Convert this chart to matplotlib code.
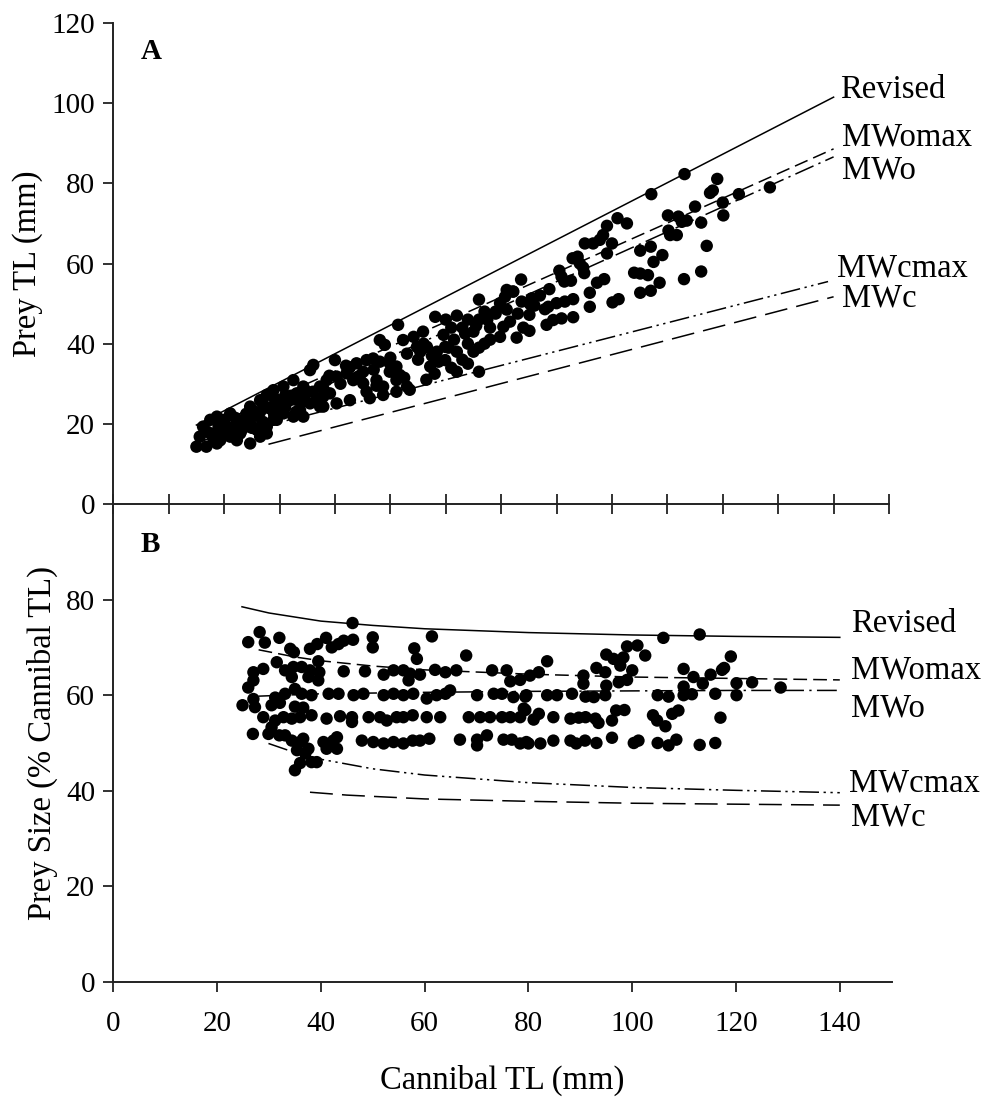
import matplotlib
matplotlib.use("Agg")
import matplotlib.pyplot as plt

plt.rcParams['font.family'] = ['Liberation Serif', 'DejaVu Serif']

# ---------------- Panel A data (Cannibal TL vs Prey TL, mm) ----------------
A_x = [103.1, 97.1, 109.0, 118.5, 112.9, 107.7, 108.2, 110.0, 105.0, 110.1, 100.1, 102.0, 102.6,
       103.5, 106.1, 100.2, 100.5, 101.7, 107.1, 91.0, 92.7, 89.1, 88.4, 90.0, 85.1, 86.6, 87.8,
       89.1, 97.0, 95.1, 99.1, 97.5, 82.9, 83.8, 84.8, 84.2, 80.5, 80.9, 82.6, 81.4, 85.0, 73.6,
       94.0, 95.1, 96.5, 106.1, 103.0, 87.3, 88.6, 98.6, 86.0, 95.1, 97.0, 86.0, 90.1, 91.2, 78.7,
       71.0, 72.1, 75.5, 73.7, 75.2, 77.9, 78.5, 80.0, 81.5, 83.0, 75.1, 78.2, 79.4, 80.9, 83.0,
       75.1, 72.8, 70.4, 71.6, 69.8, 70.7, 72.2, 69.8,
       58.1, 51.4, 55.9, 54.2, 52.3, 48.1, 49.0, 59.6, 59.9, 58.4, 57.2, 58.7, 59.9, 40.0, 36.1,
       35.5, 43.9, 45.7, 46.9, 48.1, 45.1, 42.7, 49.9, 51.1, 49.9, 51.7, 51.1, 40.3, 42.1, 43.3,
       45.1, 47.5, 48.7, 45.7, 38.5, 37.3, 39.1, 32.5, 30.7, 28.9, 27.7, 26.5, 34.3, 33.1, 31.9,
       34.0, 29.5, 30.7, 28.3, 26.5, 24.7, 24.1, 22.3, 21.1, 19.9, 18.7, 17.5, 16.2, 37.9, 36.7,
       35.5, 37.3, 33.7, 32.5, 34.3, 37.9, 40.3, 42.7, 46.3, 48.7, 51.1, 53.0, 29.5, 27.7, 25.9,
       24.7, 22.9, 21.1, 19.3, 20.5, 18.1, 15.6, 15.0, 16.8, 18.7, 22.3, 24.7, 26.5, 27.7, 30.7,
       28.9, 54.8, 55.4, 56.6,
       62.0, 63.0, 64.0, 65.0, 66.0, 67.0, 62.0, 63.0, 64.0, 65.0, 66.0, 67.0, 68.0, 61.0, 62.0,
       66.0, 68.0, 69.0, 61.0, 60.0, 64.0, 66.0,
       17.0, 19.0, 20.0, 21.0, 22.0, 23.0, 24.0, 25.0, 26.0, 27.0, 28.0, 29.0, 30.0, 31.0, 23.0,
       25.0, 27.0, 29.0, 31.0, 33.0, 35.0, 20.0, 22.0, 24.0,
       41.0, 44.0, 47.0, 50.0, 53.0, 56.0, 39.0, 42.0, 44.5, 47.5, 52.5, 55.0, 57.5, 60.5, 53.5,
       56.5, 58.0, 61.5, 63.5, 65.5, 67.5, 69.0, 71.0, 73.0, 76.0, 77.0, 74.0, 36.0, 38.0, 32.0,
       34.5, 31.0, 33.0, 29.0, 25.5, 21.5, 18.0, 19.5, 23.5]
A_y = [82.3, 77.3, 81.1, 79.0, 77.3, 77.6, 78.2, 75.2, 74.2, 72.0, 72.0, 71.7, 70.4,
       70.7, 70.2, 68.2, 67.1, 67.1, 64.4, 71.3, 70.0, 69.4, 67.1, 65.0, 65.0, 65.0, 65.9,
       62.5, 64.2, 63.2, 62.1, 60.4, 61.3, 61.7, 59.0, 60.0, 58.2, 56.7, 55.7, 55.5, 57.6, 56.0,
       57.7, 57.5, 57.1, 58.0, 56.1, 55.2, 56.1, 55.2, 52.7, 52.7, 53.2, 49.2, 50.3, 51.1, 53.6,
       53.4, 53.0, 51.3, 50.5, 49.9, 48.6, 49.2, 50.1, 50.5, 51.1, 47.2, 44.7, 45.9, 46.3, 46.6,
       43.2, 41.5, 44.2, 45.5, 50.1, 51.7, 53.0, 41.7,
       46.7, 44.7, 43.0, 41.7, 40.9, 40.9, 39.7, 42.2, 39.2, 38.0, 34.3, 35.5, 35.9, 35.9, 34.7,
       33.4, 35.1, 35.9, 36.3, 35.5, 33.0, 34.1, 35.1, 34.3, 33.0, 32.2, 30.9, 31.8, 32.6, 30.9,
       30.1, 30.9, 29.3, 28.0, 30.9, 29.3, 27.6, 30.9, 29.3, 28.4, 27.2, 25.9, 29.3, 27.6, 25.9,
       25.5, 25.5, 24.3, 23.9, 23.0, 24.3, 21.8, 21.0, 22.6, 21.0, 21.8, 21.0, 19.3, 26.8, 25.9,
       25.1, 24.3, 23.4, 21.8, 21.8, 24.3, 25.1, 25.9, 26.4, 27.2, 28.0, 29.3, 21.0, 19.3, 18.5,
       20.1, 17.6, 16.8, 15.9, 18.9, 17.6, 16.8, 14.3, 14.3, 15.1, 15.9, 15.1, 16.8, 17.6, 22.6,
       21.0, 39.2, 38.0, 39.2,
       47.0, 44.0, 40.0, 43.0, 46.0, 48.0, 38.0, 36.0, 35.0, 38.0, 39.0, 40.0, 41.0, 34.0, 33.0,
       33.0, 44.0, 48.0, 44.0, 46.0, 46.0, 51.0,
       18.0, 19.5, 20.5, 19.0, 21.5, 20.0, 22.5, 23.5, 22.0, 25.0, 24.0, 26.5, 25.5, 27.0, 18.0,
       19.0, 20.5, 22.5, 24.0, 26.0, 28.0, 17.5, 19.0, 20.0,
       30.0, 31.5, 33.5, 36.5, 37.5, 40.0, 32.0, 34.5, 32.0, 29.5, 31.5, 36.0, 37.0, 39.0, 28.5,
       31.0, 32.5, 41.0, 42.5, 44.5, 46.0, 47.5, 48.5, 47.5, 49.5, 52.0, 44.0, 28.0, 28.5, 27.0,
       26.0, 24.5, 23.0, 23.0, 19.0, 17.5, 16.5, 17.0, 19.0]

# ---------------- Panel B data (Cannibal TL vs Prey size, % of cannibal TL) ----------------
B_x = [46.1, 28.2, 26.0, 29.2, 32.0, 34.1, 34.8, 37.9, 39.3, 41.0, 42.1, 43.4, 44.4, 46.2, 50.0, 50.0,
       58.0, 58.5, 61.4, 68.0, 31.5, 39.5, 27.0, 28.9, 33.1, 34.7, 36.3, 37.9, 39.7, 34.4, 37.6, 39.5,
       44.4, 48.5, 52.1, 54.0, 55.9, 57.2, 59.1, 56.9, 62.0, 64.0, 66.1, 73.0, 75.8, 76.5, 27.0, 26.0,
       31.2, 33.1, 35.0, 36.3, 38.2, 41.5, 43.4, 46.3, 48.2, 52.1, 54.0, 55.9, 57.8, 60.4, 62.3, 64.0,
       64.9, 70.1, 73.3, 74.9, 77.1, 79.4, 24.9, 27.0, 27.3, 30.5, 32.1, 35.0, 36.6, 28.9, 31.2, 32.8,
       34.4, 36.0, 38.2, 41.1, 43.7, 46.0, 46.0, 49.2, 51.4, 52.7, 54.6, 55.9, 57.7, 60.4, 63.0, 68.5,
       70.7, 72.6, 74.9, 76.5, 78.4, 79.1, 26.9, 29.9, 30.5, 32.0, 33.1, 34.4, 36.0, 36.6, 35.4, 37.0,
       37.6, 36.0, 38.2, 39.2, 35.0, 40.5, 42.4, 43.1, 43.1, 41.1, 47.9, 50.1, 52.1, 54.0, 55.9, 57.7,
       59.1, 60.9, 66.8, 70.1, 70.1, 72.0, 75.2, 76.8, 78.4, 80.0,
       106.0, 113.0, 99.0, 101.0, 102.5, 95.0, 96.4, 98.3, 97.7, 83.6, 119.0, 93.1, 94.8, 100.0,
       109.9, 117.7, 117.3, 115.1, 78.4, 80.3, 82.0, 90.6, 90.6, 95.0, 97.4, 99.0, 111.8, 113.6,
       109.9, 120.1, 123.1, 128.6, 79.6, 83.6, 85.5, 88.4, 91.0, 92.6, 94.8, 104.9, 107.0, 109.9,
       111.5, 116.0, 120.1, 79.4, 82.0, 81.0, 84.8, 88.1, 89.7, 91.0, 92.9, 93.5, 96.1, 96.9, 98.5,
       104.0, 104.8, 106.4, 107.7, 108.9, 117.0, 79.6, 82.3, 84.8, 88.1, 89.2, 90.9, 93.1, 96.1,
       100.3, 101.2, 104.9, 107.0, 108.5, 113.0, 116.0]
B_y = [75.1, 73.2, 71.1, 71.0, 72.0, 69.7, 69.0, 69.7, 70.7, 72.0, 70.0, 70.7, 71.4, 71.6, 72.1, 70.0,
       69.8, 67.6, 72.3, 68.3, 66.9, 67.1, 64.8, 65.5, 65.2, 65.9, 65.9, 65.2, 64.8, 63.8, 63.8, 63.1,
       65.0, 65.0, 64.3, 65.2, 65.2, 64.5, 64.3, 63.1, 65.3, 64.8, 65.2, 65.2, 65.2, 62.9, 63.1, 61.6,
       59.5, 60.3, 61.3, 60.3, 60.0, 60.3, 60.3, 60.0, 60.3, 60.0, 60.3, 60.0, 60.3, 59.3, 60.0, 60.3,
       61.0, 60.0, 60.3, 60.3, 59.6, 59.7, 57.9, 59.2, 57.5, 57.9, 58.4, 57.6, 57.4, 55.4, 54.7, 55.4,
       55.1, 55.4, 55.8, 55.1, 55.6, 55.4, 54.4, 55.4, 55.4, 54.7, 55.4, 55.4, 55.8, 55.4, 55.4, 55.4,
       55.4, 55.4, 55.4, 55.4, 55.4, 57.2, 51.9, 51.9, 53.3, 51.6, 51.6, 50.5, 50.2, 50.9, 48.5, 47.8,
       48.8, 45.8, 46.0, 46.0, 44.3, 50.2, 50.5, 51.2, 48.8, 48.8, 50.5, 50.2, 49.9, 50.2, 49.9, 50.5,
       50.5, 50.9, 50.7, 50.7, 49.5, 51.6, 50.7, 50.7, 49.9, 49.9,
       72.0, 72.7, 70.2, 70.4, 68.3, 68.5, 67.6, 67.9, 66.2, 67.1, 68.1, 65.7, 64.8, 65.2,
       65.5, 65.7, 65.3, 64.3, 63.2, 64.1, 64.8, 64.1, 62.4, 62.0, 62.7, 63.2, 63.8, 62.4,
       61.8, 62.5, 62.7, 61.6, 60.0, 60.0, 60.0, 60.3, 59.7, 59.6, 60.0, 60.0, 59.7, 60.0,
       60.2, 60.3, 60.0, 56.9, 56.1, 54.9, 55.4, 55.1, 55.3, 55.4, 55.1, 54.2, 54.7, 56.8, 56.9,
       55.8, 54.7, 53.5, 56.1, 56.8, 55.3, 50.2, 49.9, 50.5, 50.5, 49.9, 50.5, 50.0, 51.1,
       50.0, 50.5, 50.0, 49.5, 50.7, 49.6, 50.0]

# ---------------- Model lines ----------------
line_names = ['Revised', 'MWomax', 'MWo', 'MWcmax', 'MWc']
# Panel A (linear lines, read endpoints)
A_lines_x = [[15, 130], [15, 130], [15, 130], [27, 129], [28, 130]]
A_lines_y = [[19.7, 101.5], [17.7, 88.6], [15.0, 86.6], [19.3, 55.5], [14.9, 51.7]]
# Panel B (curves, read at several TL)
B_lines_x = [[24.8, 30, 40, 50, 60, 80, 100, 120, 140],
             [28, 35, 40, 50, 60, 80, 100, 120, 140],
             [28, 40, 60, 80, 100, 120, 140],
             [29.9, 35, 40, 50, 60, 80, 100, 120, 140],
             [37.9, 45, 60, 80, 100, 120, 140]]
B_lines_y = [[78.5, 77.2, 75.5, 74.6, 73.9, 73.1, 72.6, 72.3, 72.1],
             [69.5, 68.0, 67.2, 66.1, 65.3, 64.4, 63.8, 63.5, 63.2],
             [59.8, 60.3, 60.6, 60.8, 60.9, 61.0, 61.0],
             [49.9, 48.0, 46.6, 44.6, 43.3, 41.7, 40.7, 40.1, 39.6],
             [39.7, 39.1, 38.3, 37.8, 37.4, 37.2, 37.0]]

styles = ['-', (0, (9, 4)), (0, (13, 3.5, 1.5, 3.5)), (0, (13, 3, 1.5, 3, 1.5, 3)), (0, (15, 6))]

A_label_pos = [(131.2, 103.3), (131.5, 91.6), (131.5, 83.3), (130.7, 58.8), (131.5, 51.3)]
B_label_pos = [(142.1, 74.9), (142.1, 65.2), (142.1, 57.2), (141.7, 41.5), (142.1, 34.5)]

W, H = 984, 1101
fig = plt.figure(figsize=(W / 100, H / 100), dpi=100)
axA = fig.add_axes([113.3 / W, 1 - 504 / H, (889 - 113.3) / W, (504 - 23) / H])
axB = fig.add_axes([113.3 / W, 1 - 982 / H, (891.7 - 113.3) / W, (982 - 504) / H])

FS = 21      # tick labels
LFS = 23.5   # axis labels and line labels
for ax in (axA, axB):
    ax.set_facecolor('none')
    for s in ('top', 'right'):
        ax.spines[s].set_visible(False)
    for s in ('left', 'bottom'):
        ax.spines[s].set_linewidth(1.4)
        ax.spines[s].set_color('#222222')

# Panel A
for i in range(5):
    axA.plot(A_lines_x[i], A_lines_y[i], color='black', lw=1.1, linestyle=styles[i], zorder=2)
    axA.text(A_label_pos[i][0], A_label_pos[i][1], line_names[i], fontsize=LFS,
             ha='left', va='center', clip_on=False)
axA.scatter(A_x, A_y, s=80, color='black', edgecolors='none', zorder=3, clip_on=False)
axA.set_xlim(0, 140)
axA.set_ylim(0, 120)
axA.set_xticks(range(0, 141, 10))
axA.set_xticklabels([])
axA.set_yticks(range(0, 121, 20))
axA.tick_params(axis='x', direction='inout', length=15, width=1.3, color='#222222')
axA.tick_params(axis='y', direction='out', length=7, width=1.3, color='#222222', labelsize=FS, pad=6)
axA.set_ylabel('Prey TL (mm)', fontsize=LFS, labelpad=6)
axA.text(0.035, 0.94, 'A', transform=axA.transAxes, fontsize=FS, fontweight='bold', va='center')

# Panel B
for i in range(5):
    axB.plot(B_lines_x[i], B_lines_y[i], color='black', lw=1.1, linestyle=styles[i], zorder=2)
    axB.text(B_label_pos[i][0], B_label_pos[i][1], line_names[i], fontsize=LFS,
             ha='left', va='center', clip_on=False)
axB.scatter(B_x, B_y, s=80, color='black', edgecolors='none', zorder=3)
axB.set_xlim(0, 150)
axB.set_ylim(0, 100)
axB.set_xticks(range(0, 141, 20))
axB.set_yticks(range(0, 81, 20))
axB.tick_params(axis='both', direction='out', length=7, width=1.3, color='#222222', labelsize=FS, pad=6)
axB.tick_params(axis='x', pad=14)
axB.set_ylabel('Prey Size (% Cannibal TL)', fontsize=LFS, labelpad=6)
axB.set_xlabel('Cannibal TL (mm)', fontsize=LFS, labelpad=20)
axB.text(0.035, 0.915, 'B', transform=axB.transAxes, fontsize=FS, fontweight='bold', va='center')

fig.savefig('out.png', dpi=100)
